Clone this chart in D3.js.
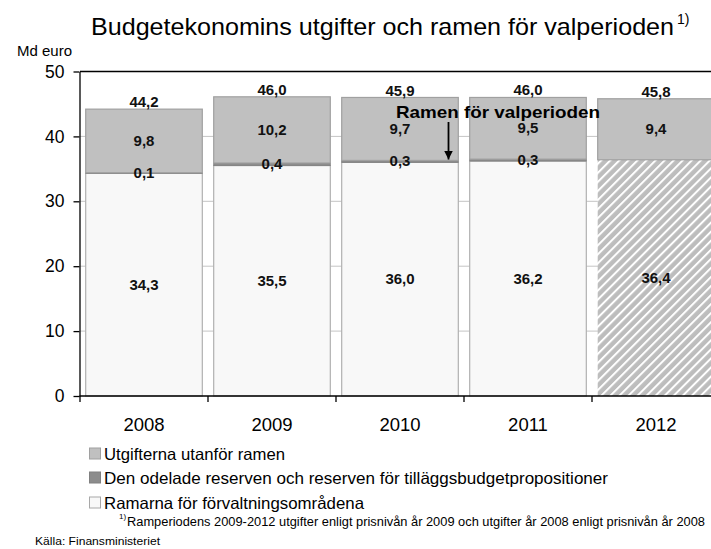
<!DOCTYPE html>
<html>
<head>
<meta charset="utf-8">
<script src="https://cdn.jsdelivr.net/npm/d3@7"></script>
<style>
  html, body { margin: 0; padding: 0; background: #fff; }
  svg, svg text { font-family: Arial, "Liberation Sans", Arimo, Helvetica, sans-serif; }
</style>
</head>
<body>
<svg id="chart" width="711" height="549" font-family="Arial, 'Liberation Sans', Arimo, Helvetica, sans-serif"></svg>
<script>
// ---- data ----
const years = ["2008", "2009", "2010", "2011", "2012"];
const ramarna = [34.3, 35.5, 36.0, 36.2, 36.4];      // Ramarna för förvaltningsområdena
const reserv = [0.1, 0.4, 0.3, 0.3, 0];              // Den odelade reserven ...
const utgifter = [9.8, 10.2, 9.7, 9.5, 9.4];         // Utgifterna utanför ramen
const totals = [44.2, 46.0, 45.9, 46.0, 45.8];
const yTicks = [0, 10, 20, 30, 40, 50];
const hatchedYear = "2012";
const seriesKeys = ["ramarna", "reserv", "utgifter"];
const legendLabels = [
  "Utgifterna utanför ramen",
  "Den odelade reserven och reserven för tilläggsbudgetpropositioner",
  "Ramarna för förvaltningsområdena"
];
const titleText = "Budgetekonomins utgifter och ramen för valperioden";
const footnoteText = "Ramperiodens 2009-2012 utgifter enligt prisnivån år 2009 och utgifter år 2008 enligt prisnivån år 2008";
const sourceText = "Källa: Finansministeriet";
const annotationText = "Ramen för valperioden";

const fmt = v => v.toFixed(1).replace(".", ",");
const FONT = "Arial, 'Liberation Sans', Arimo, Helvetica, sans-serif";

const svg = d3.select("#chart");
const defs = svg.append("defs");
const pat = defs.append("pattern")
  .attr("id", "hatch").attr("patternUnits", "userSpaceOnUse")
  .attr("width", 6.4).attr("height", 6.4)
  .attr("patternTransform", "rotate(45)");
pat.append("rect").attr("width", 6.4).attr("height", 6.4).attr("fill", "#bdbdbd");
pat.append("rect").attr("x", 0).attr("width", 2).attr("height", 6.4).attr("fill", "#ffffff");

const colors = { ramarna: "#f8f8f8", reserv: "#8c8c8c", utgifter: "#c0c0c0" };
const strokes = { ramarna: "#b0b0b0", reserv: "#808080", utgifter: "#a0a0a0" };

const x = d3.scaleBand().domain(years).range([80, 720]).paddingInner(0.089).paddingOuter(0.0445);
const y = d3.scaleLinear().domain([0, 50]).range([396, 71.5]);

const rows = years.map((yr, i) => ({ year: yr, ramarna: ramarna[i], reserv: reserv[i], utgifter: utgifter[i], total: totals[i] }));
const stacked = d3.stack().keys(seriesKeys)(rows);

// gridlines
svg.append("g").selectAll("line").data(yTicks.filter(t => t > 0 && t < 50)).join("line")
  .attr("x1", 80).attr("x2", 720).attr("y1", d => y(d)).attr("y2", d => y(d))
  .attr("stroke", "#c4c4c4").attr("stroke-width", 1);

// bars
const gBars = svg.append("g");
stacked.forEach(s => {
  gBars.append("g").selectAll("rect").data(s.filter(d => d[1] - d[0] > 0)).join("rect")
    .attr("x", d => x(d.data.year))
    .attr("width", x.bandwidth())
    .attr("y", d => y(d[1]))
    .attr("height", d => y(d[0]) - y(d[1]))
    .attr("fill", d => (s.key === "ramarna" && d.data.year === hatchedYear) ? "url(#hatch)" : colors[s.key])
    .attr("stroke", d => (s.key === "ramarna" && d.data.year === hatchedYear) ? "none" : strokes[s.key])
    .attr("stroke-width", s.key === "reserv" ? 0.8 : 1.2);
});

// axes
svg.append("line").attr("x1", 80).attr("x2", 720).attr("y1", y(50)).attr("y2", y(50)).attr("stroke", "#000").attr("stroke-width", 1.3);
const yAxis = svg.append("g").attr("transform", "translate(79.5,0)")
  .call(d3.axisLeft(y).tickValues(yTicks).tickSize(6).tickSizeOuter(0).tickPadding(9).tickFormat(d3.format("d")));
yAxis.attr("font-family", FONT);
yAxis.select(".domain").attr("stroke", "#000").attr("stroke-width", 1.3);
yAxis.selectAll("line").attr("stroke-width", 1.3);
yAxis.selectAll("text").attr("font-size", 17.5).attr("fill", "#000");
const xBounds = years.map(yr => x(yr) - x.step() * x.paddingInner() / 2);
const xAxis = svg.append("g").attr("transform", "translate(0,396)");
xAxis.append("line").attr("x1", 79.5).attr("x2", 720).attr("stroke", "#000").attr("stroke-width", 1.3);
xAxis.selectAll("line.tk").data(xBounds).join("line").attr("class", "tk")
  .attr("x1", d => d).attr("x2", d => d).attr("y1", 0).attr("y2", 6).attr("stroke", "#000").attr("stroke-width", 1.3);
xAxis.selectAll("text").data(years).join("text")
  .attr("x", d => x(d) + x.bandwidth() / 2).attr("y", 35).attr("text-anchor", "middle")
  .attr("font-size", 18.5).text(d => d);

// value labels
const lbl = svg.append("g").attr("font-weight", "bold").attr("font-size", 15).attr("text-anchor", "middle").attr("fill", "#111");
stacked.forEach(s => {
  lbl.append("g").selectAll("text").data(s.filter(d => d[1] - d[0] > 0)).join("text")
    .attr("x", d => x(d.data.year) + x.bandwidth() / 2)
    .attr("y", d => y((d[0] + d[1]) / 2) + 5)
    .text(d => fmt(d[1] - d[0]));
});
lbl.append("g").selectAll("text").data(rows).join("text")
  .attr("x", d => x(d.year) + x.bandwidth() / 2)
  .attr("y", d => y(d.total) - 2)
  .text(d => fmt(d.total));

// annotation
defs.append("marker").attr("id", "arr").attr("viewBox", "0 0 10 10").attr("refX", 10).attr("refY", 5)
  .attr("markerWidth", 5).attr("markerHeight", 5).attr("orient", "auto")
  .append("path").attr("d", "M0,0 L10,5 L0,10 Z").attr("fill", "#000");
svg.append("text").attr("x", 396).attr("y", 118).attr("font-weight", "bold").attr("font-size", 17)
  .attr("textLength", 204).attr("lengthAdjust", "spacingAndGlyphs").text(annotationText);
svg.append("line").attr("x1", 448.5).attr("x2", 448.5).attr("y1", 122).attr("y2", 159.5)
  .attr("stroke", "#000").attr("stroke-width", 1.8).attr("marker-end", "url(#arr)");

// title
svg.append("text").attr("x", 91).attr("y", 35).attr("font-size", 24)
  .attr("textLength", 583).attr("lengthAdjust", "spacingAndGlyphs").text(titleText);
svg.append("text").attr("x", 677).attr("y", 24).attr("font-size", 14).text("1)");
svg.append("text").attr("x", 72).attr("y", 56).attr("text-anchor", "end").attr("font-size", 15).text("Md euro");

// legend
const legOrder = ["utgifter", "reserv", "ramarna"];
const legY = [448, 472, 497];
const legW = [181, 504, 260];
const leg = svg.append("g");
legOrder.forEach((k, i) => {
  leg.append("rect").attr("x", 89.5).attr("y", legY[i]).attr("width", 11).attr("height", 11)
    .attr("fill", colors[k]).attr("stroke", k === "ramarna" ? "#a8a8a8" : strokes[k]).attr("stroke-width", 1);
  leg.append("text").attr("x", 104).attr("y", legY[i] + 11.5).attr("font-size", 16.5)
    .attr("textLength", legW[i]).attr("lengthAdjust", "spacingAndGlyphs").text(legendLabels[i]);
});

// footnote & source
svg.append("text").attr("x", 119).attr("y", 519).attr("font-size", 8).text("1)");
svg.append("text").attr("x", 127).attr("y", 526).attr("font-size", 12)
  .attr("textLength", 578).attr("lengthAdjust", "spacingAndGlyphs").text(footnoteText);
svg.append("text").attr("x", 35).attr("y", 545).attr("font-size", 11.5)
  .attr("textLength", 125).attr("lengthAdjust", "spacingAndGlyphs").text(sourceText);
</script>
</body>
</html>
